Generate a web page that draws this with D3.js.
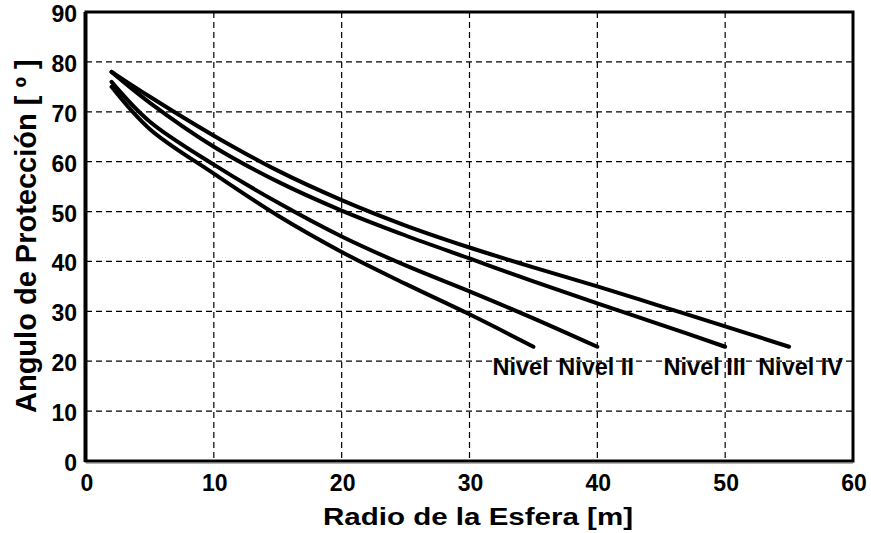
<!DOCTYPE html>
<html>
<head>
<meta charset="utf-8">
<script src="https://cdn.jsdelivr.net/npm/d3@7"></script>
<style>
  body { margin: 0; background: #fff; }
  text { font-family: "Liberation Sans", Arial, sans-serif; font-weight: bold; fill: #000; }
</style>
</head>
<body>
<svg id="chart" width="871" height="533"></svg>
<script>
// radio de la esfera [m] vs angulo de proteccion [grados]
const radioI   = [2, 5, 10, 15, 20, 25, 30, 35];
const anguloI  = [75, 66.5, 57.6, 49.2, 41.9, 35.5, 29.4, 22.9];
const radioII  = [2, 5, 10, 15, 20, 25, 30, 35, 40];
const anguloII = [76, 68.0, 59.4, 51.8, 45.0, 39.2, 34.0, 28.6, 22.9];
const radioIII  = [2, 5, 10, 15, 20, 25, 30, 35, 40, 45, 50];
const anguloIII = [78, 71.8, 63.0, 56.0, 50.2, 45.2, 40.6, 36.0, 31.6, 27.3, 22.9];
const radioIV  = [2, 5, 10, 15, 20, 25, 30, 35, 40, 45, 50, 55];
const anguloIV = [78, 73.0, 65.2, 58.2, 52.3, 47.2, 42.8, 38.8, 35.0, 31.0, 27.0, 22.9];

const levelNames = ['Nivel', 'Nivel II', 'Nivel III', 'Nivel IV'];
const xTicks = [0, 10, 20, 30, 40, 50, 60];
const yTicks = [0, 10, 20, 30, 40, 50, 60, 70, 80, 90];

const series = [
  { name: levelNames[0], x: radioI, y: anguloI },
  { name: levelNames[1], x: radioII, y: anguloII },
  { name: levelNames[2], x: radioIII, y: anguloIII },
  { name: levelNames[3], x: radioIV, y: anguloIV }
];
// label centre in data units
const labelPos = [[34.0, 17.3], [39.9, 17.3], [48.4, 17.3], [55.9, 17.3]];

const svg = d3.select('#chart');
const x = d3.scaleLinear().domain([0, 60]).range([86, 853]);
const y = d3.scaleLinear().domain([0, 90]).range([461, 12]);

const g = svg.append('g');

// grid
g.append('g')
  .selectAll('line')
  .data(xTicks.slice(1, -1))
  .join('line')
  .attr('x1', d => x(d)).attr('x2', d => x(d))
  .attr('y1', y(90)).attr('y2', y(0))
  .attr('stroke', '#000')
  .attr('stroke-width', 1.2)
  .attr('stroke-dasharray', '6,4');

g.append('g')
  .selectAll('line')
  .data(yTicks.slice(1, -1))
  .join('line')
  .attr('x1', x(0)).attr('x2', x(60))
  .attr('y1', d => y(d)).attr('y2', d => y(d))
  .attr('stroke', '#000')
  .attr('stroke-width', 1.2)
  .attr('stroke-dasharray', '6,4');

// frame
g.append('rect')
  .attr('x', x(0)).attr('y', y(90))
  .attr('width', x(60) - x(0)).attr('height', y(0) - y(90))
  .attr('fill', 'none')
  .attr('stroke', '#000')
  .attr('stroke-width', 3);
g.append('line')
  .attr('x1', x(0) - 1.5).attr('x2', x(0) - 1.5)
  .attr('y1', y(90)).attr('y2', y(0) + 1)
  .attr('stroke', '#000').attr('stroke-width', 2);
g.append('line')
  .attr('x1', x(0)).attr('x2', x(60))
  .attr('y1', y(0) + 2).attr('y2', y(0) + 2)
  .attr('stroke', '#666').attr('stroke-width', 1);

// curves
const line = d3.line()
  .x(d => x(d[0]))
  .y(d => y(d[1]))
  .curve(d3.curveCatmullRom.alpha(0.5));

g.append('g')
  .selectAll('path')
  .data(series)
  .join('path')
  .attr('d', s => line(s.x.map((v, i) => [v, s.y[i]])))
  .attr('fill', 'none')
  .attr('stroke', '#000')
  .attr('stroke-width', 4)
  .attr('stroke-linecap', 'round')
  .attr('stroke-linejoin', 'round');

// level labels
g.append('g')
  .selectAll('text')
  .data(series)
  .join('text')
  .attr('x', (s, i) => x(labelPos[i][0]))
  .attr('y', (s, i) => y(labelPos[i][1]))
  .attr('text-anchor', 'middle')
  .style('font-size', '23.5px')
  .text(s => s.name);

// tick labels
g.append('g')
  .selectAll('text')
  .data(xTicks)
  .join('text')
  .attr('x', d => x(d) + 1)
  .attr('y', 491)
  .attr('text-anchor', 'middle')
  .style('font-size', '23px')
  .text(d => d);

g.append('g')
  .selectAll('text')
  .data(yTicks)
  .join('text')
  .attr('x', 77)
  .attr('y', d => y(d) + 10)
  .attr('text-anchor', 'end')
  .style('font-size', '23px')
  .text(d => d);

// axis titles
svg.append('text')
  .attr('x', 478)
  .attr('y', 525)
  .attr('text-anchor', 'middle')
  .attr('textLength', 310)
  .attr('lengthAdjust', 'spacingAndGlyphs')
  .style('font-size', '24.5px')
  .text('Radio de la Esfera [m]');

svg.append('text')
  .attr('transform', 'translate(36,413) rotate(-90)')
  .attr('text-anchor', 'start')
  .style('font-size', '29px')
  .text('Angulo de Protección [ º ]');
</script>
</body>
</html>
